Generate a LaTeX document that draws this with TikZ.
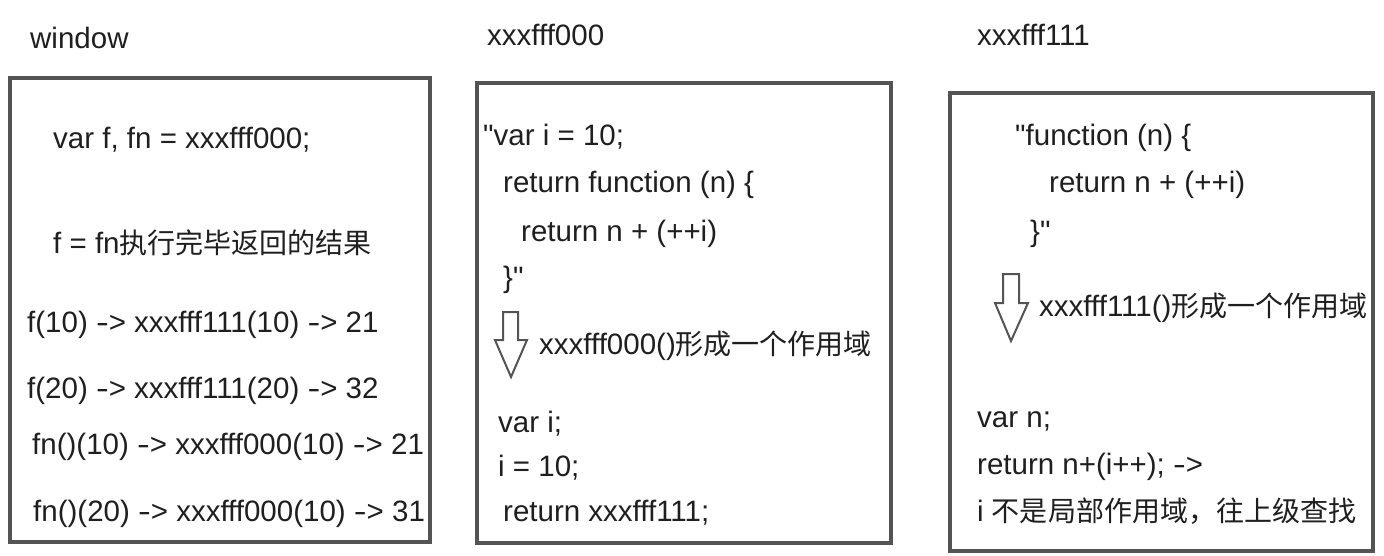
\documentclass[tikz,border=0pt]{standalone}
\usepackage{graphicx}
\usepackage{fontspec}
\setmainfont{Liberation Sans}[Ligatures=TeXOff]
\newfontfamily\cjk[Scale=0.95]{Noto Sans CJK SC}
\newcommand\myarrowtxt{\scalebox{1.3}[1]{-}>}
\begin{document}
\begin{tikzpicture}[x=1pt,y=-1pt,
  txt/.style={anchor=base west, inner sep=0pt, font=\fontsize{29.5}{35}\selectfont, text=black!88},
  box/.style={draw=black!67, line width=3.5pt},
  downarrow/.style={draw=black!67, line width=2pt, line join=miter}]
\useasboundingbox (0,0) rectangle (1384,556);

% boxes
\draw[box] (10,78) rectangle (430,542);
\draw[box] (477,83) rectangle (891,543);
\draw[box] (950,93) rectangle (1373,551);

% titles
\node[txt] (t1) at (30,49) {window};
\node[txt] (t2) at (487,46) {xxxfff000};
\node[txt] (t3) at (977,46) {xxxfff111};

% box 1
\node[txt] (a1) at (53,149) {var f, fn = xxxfff000;};
\node[txt] (a2) at (53,254) {f = fn{\cjk 执行完毕返回的结果}};
\node[txt] (a3) at (27,332) {f(10) \myarrowtxt{} xxxfff111(10) \myarrowtxt{} 21};
\node[txt] (a4) at (27,398) {f(20) \myarrowtxt{} xxxfff111(20) \myarrowtxt{} 32};
\node[txt] (a5) at (32,454) {fn()(10) \myarrowtxt{} xxxfff000(10) \myarrowtxt{} 21};
\node[txt] (a6) at (33,521) {fn()(20) \myarrowtxt{} xxxfff000(10) \myarrowtxt{} 31};

% box 2
\node[txt] (b1) at (483,146) {"var i = 10;};
\node[txt] (b2) at (503,193) {return function (n) \{};
\node[txt] (b3) at (521,241) {return n + (++i)};
\node[txt] (b4) at (503,287) {\}"};
\draw[downarrow] (503,312) -- (518,312) -- (518,340) -- (527,340) -- (511,377) -- (495,340) -- (503,340) -- cycle;
\node[txt] (b5) at (539,354) {xxxfff000(){\cjk 形成一个作用域}};
\node[txt] (b6) at (498,432) {var i;};
\node[txt] (b7) at (498,476) {i = 10;};
\node[txt] (b8) at (503,521) {return xxxfff111;};

% box 3
\node[txt] (c1) at (1015,146) {"function (n) \{};
\node[txt] (c2) at (1049,193) {return n + (++i)};
\node[txt] (c3) at (1030,241) {\}"};
\draw[downarrow] (1003,274) -- (1019,274) -- (1019,303) -- (1028,303) -- (1011,341) -- (995,303) -- (1003,303) -- cycle;
\node[txt] (c4) at (1039,316) {xxxfff111(){\cjk 形成一个作用域}};
\node[txt] (c5) at (977,427) {var n;};
\node[txt] (c6) at (977,474) {return n+(i++); \myarrowtxt};
\node[txt] (c7) at (977,521) {i {\cjk 不是局部作用域，往上级查找}};
\end{tikzpicture}
\end{document}
